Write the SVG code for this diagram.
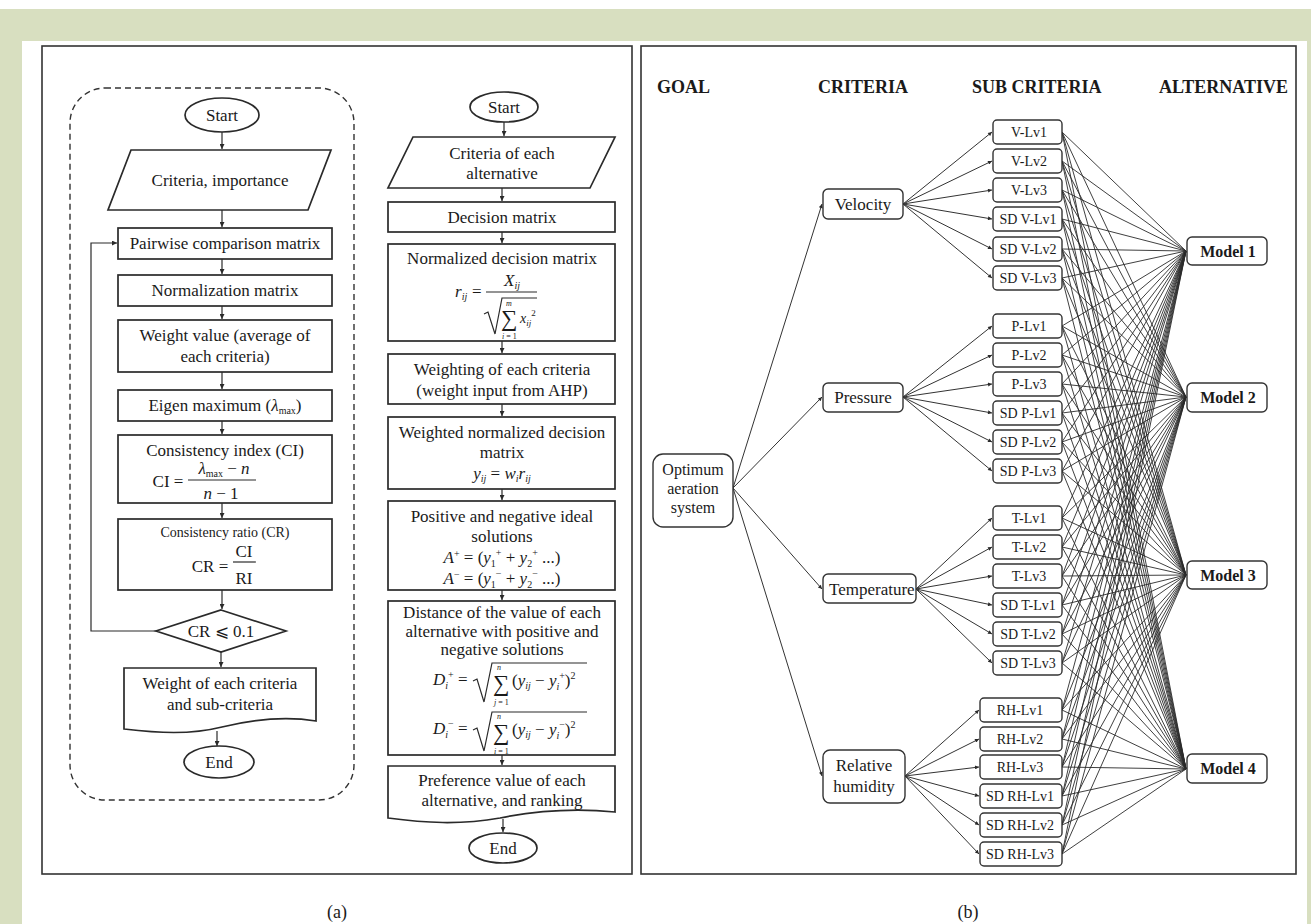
<svg xmlns="http://www.w3.org/2000/svg" width="1311" height="924" viewBox="0 0 1311 924">
<defs>
<style>
text{font-family:"Liberation Serif","Times New Roman","DejaVu Serif",serif;fill:#1a1a1a}
.f17{font-size:17px}
.f14{font-size:14px}
.c{text-anchor:middle}
.it{font-style:italic}
.box{fill:#fff;stroke:#2a2a2a;stroke-width:1.7}
.nb{fill:#fff;stroke:#333;stroke-width:1.4}
.ln{stroke:#2a2a2a;stroke-width:1.2;fill:none}
.al{stroke:#2a2a2a;stroke-width:1.2;fill:none;marker-end:url(#ah)}
.ar{stroke:#333;stroke-width:1;fill:none;marker-end:url(#ah2)}
.wl{stroke:#2a2a2a;stroke-width:0.9;fill:none}
.hd{font-size:18px;font-weight:bold}
.md{font-size:16px;font-weight:bold}
.panel{fill:#fff;stroke:#333;stroke-width:1.6}
.sig{font-size:23px}
.idx{font-size:8px}
.sm{font-size:10px}
.xs{font-size:9px}
</style>
<marker id="ah" viewBox="0 0 6 6" refX="6" refY="3" markerWidth="6" markerHeight="5" markerUnits="userSpaceOnUse" orient="auto"><path d="M0,0L6,3L0,6z" fill="#2a2a2a"/></marker>
<marker id="ah2" viewBox="0 0 6 6" refX="6" refY="3" markerWidth="5" markerHeight="4" markerUnits="userSpaceOnUse" orient="auto"><path d="M0,0L6,3L0,6z" fill="#2a2a2a"/></marker>
</defs>

<rect x="0" y="0" width="1311" height="924" fill="#fff"/>
<rect x="0" y="9" width="1311" height="915" fill="#d8dfc0"/>
<rect x="22" y="41" width="1285" height="883" fill="#fff"/>

<rect class="panel" x="42" y="46" width="590" height="828"/>
<rect class="panel" x="641" y="46" width="655" height="828"/>
<text class="c" font-size="18" x="337" y="918">(a)</text>
<text class="c" font-size="18" x="968" y="918">(b)</text>

<rect x="70" y="88" width="284" height="712" rx="35" fill="none" stroke="#333" stroke-width="1.4" stroke-dasharray="6 4"/>

<g id="connectors">
<path class="al" d="M222 132V149"/>
<path class="al" d="M222 210V227"/>
<path class="al" d="M222 259V274"/>
<path class="al" d="M222 306V319"/>
<path class="al" d="M222 372V389"/>
<path class="al" d="M222 421V434"/>
<path class="al" d="M222 503V518"/>
<path class="al" d="M222 590V609"/>
<path class="al" d="M221 652V667"/>
<path class="al" d="M217 731V746"/>
<path class="al" d="M156 631H91V243H117"/>

<path class="al" d="M504 122V136"/>
<path class="al" d="M502 188V201"/>
<path class="al" d="M502 232V243"/>
<path class="al" d="M502 341V353"/>
<path class="al" d="M502 404V416"/>
<path class="al" d="M502 489V500"/>
<path class="al" d="M502 590V600"/>
<path class="al" d="M502 755V765"/>
<path class="al" d="M503 819V832"/>

<path class="ar" d="M733 488L822 204"/>
<path class="ar" d="M733 488L822 397"/>
<path class="ar" d="M733 488L822 589"/>
<path class="ar" d="M733 488L822 776"/>

<path class="ar" d="M903 204L992 132"/>
<path class="ar" d="M903 204L992 161"/>
<path class="ar" d="M903 204L992 190"/>
<path class="ar" d="M903 204L992 219"/>
<path class="ar" d="M903 204L992 249"/>
<path class="ar" d="M903 204L992 278"/>
<path class="ar" d="M903 397L992 326"/>
<path class="ar" d="M903 397L992 355"/>
<path class="ar" d="M903 397L992 384"/>
<path class="ar" d="M903 397L992 413"/>
<path class="ar" d="M903 397L992 442"/>
<path class="ar" d="M903 397L992 471"/>
<path class="ar" d="M916 589L992 518"/>
<path class="ar" d="M916 589L992 547"/>
<path class="ar" d="M916 589L992 576"/>
<path class="ar" d="M916 589L992 605"/>
<path class="ar" d="M916 589L992 634"/>
<path class="ar" d="M916 589L992 663"/>
<path class="ar" d="M905 776L979 710"/>
<path class="ar" d="M905 776L979 739"/>
<path class="ar" d="M905 776L979 767"/>
<path class="ar" d="M905 776L979 796"/>
<path class="ar" d="M905 776L979 825"/>
<path class="ar" d="M905 776L979 854"/>

<path class="wl" d="M1062 132L1186 251"/><path class="wl" d="M1062 132L1186 397"/><path class="wl" d="M1062 132L1186 575"/><path class="wl" d="M1062 132L1186 769"/>
<path class="wl" d="M1062 161L1186 251"/><path class="wl" d="M1062 161L1186 397"/><path class="wl" d="M1062 161L1186 575"/><path class="wl" d="M1062 161L1186 769"/>
<path class="wl" d="M1062 190L1186 251"/><path class="wl" d="M1062 190L1186 397"/><path class="wl" d="M1062 190L1186 575"/><path class="wl" d="M1062 190L1186 769"/>
<path class="wl" d="M1062 219L1186 251"/><path class="wl" d="M1062 219L1186 397"/><path class="wl" d="M1062 219L1186 575"/><path class="wl" d="M1062 219L1186 769"/>
<path class="wl" d="M1062 249L1186 251"/><path class="wl" d="M1062 249L1186 397"/><path class="wl" d="M1062 249L1186 575"/><path class="wl" d="M1062 249L1186 769"/>
<path class="wl" d="M1062 278L1186 251"/><path class="wl" d="M1062 278L1186 397"/><path class="wl" d="M1062 278L1186 575"/><path class="wl" d="M1062 278L1186 769"/>
<path class="wl" d="M1062 326L1186 251"/><path class="wl" d="M1062 326L1186 397"/><path class="wl" d="M1062 326L1186 575"/><path class="wl" d="M1062 326L1186 769"/>
<path class="wl" d="M1062 355L1186 251"/><path class="wl" d="M1062 355L1186 397"/><path class="wl" d="M1062 355L1186 575"/><path class="wl" d="M1062 355L1186 769"/>
<path class="wl" d="M1062 384L1186 251"/><path class="wl" d="M1062 384L1186 397"/><path class="wl" d="M1062 384L1186 575"/><path class="wl" d="M1062 384L1186 769"/>
<path class="wl" d="M1062 413L1186 251"/><path class="wl" d="M1062 413L1186 397"/><path class="wl" d="M1062 413L1186 575"/><path class="wl" d="M1062 413L1186 769"/>
<path class="wl" d="M1062 442L1186 251"/><path class="wl" d="M1062 442L1186 397"/><path class="wl" d="M1062 442L1186 575"/><path class="wl" d="M1062 442L1186 769"/>
<path class="wl" d="M1062 471L1186 251"/><path class="wl" d="M1062 471L1186 397"/><path class="wl" d="M1062 471L1186 575"/><path class="wl" d="M1062 471L1186 769"/>
<path class="wl" d="M1062 518L1186 251"/><path class="wl" d="M1062 518L1186 397"/><path class="wl" d="M1062 518L1186 575"/><path class="wl" d="M1062 518L1186 769"/>
<path class="wl" d="M1062 547L1186 251"/><path class="wl" d="M1062 547L1186 397"/><path class="wl" d="M1062 547L1186 575"/><path class="wl" d="M1062 547L1186 769"/>
<path class="wl" d="M1062 576L1186 251"/><path class="wl" d="M1062 576L1186 397"/><path class="wl" d="M1062 576L1186 575"/><path class="wl" d="M1062 576L1186 769"/>
<path class="wl" d="M1062 605L1186 251"/><path class="wl" d="M1062 605L1186 397"/><path class="wl" d="M1062 605L1186 575"/><path class="wl" d="M1062 605L1186 769"/>
<path class="wl" d="M1062 634L1186 251"/><path class="wl" d="M1062 634L1186 397"/><path class="wl" d="M1062 634L1186 575"/><path class="wl" d="M1062 634L1186 769"/>
<path class="wl" d="M1062 663L1186 251"/><path class="wl" d="M1062 663L1186 397"/><path class="wl" d="M1062 663L1186 575"/><path class="wl" d="M1062 663L1186 769"/>
<path class="wl" d="M1062 710L1186 251"/><path class="wl" d="M1062 710L1186 397"/><path class="wl" d="M1062 710L1186 575"/><path class="wl" d="M1062 710L1186 769"/>
<path class="wl" d="M1062 739L1186 251"/><path class="wl" d="M1062 739L1186 397"/><path class="wl" d="M1062 739L1186 575"/><path class="wl" d="M1062 739L1186 769"/>
<path class="wl" d="M1062 767L1186 251"/><path class="wl" d="M1062 767L1186 397"/><path class="wl" d="M1062 767L1186 575"/><path class="wl" d="M1062 767L1186 769"/>
<path class="wl" d="M1062 796L1186 251"/><path class="wl" d="M1062 796L1186 397"/><path class="wl" d="M1062 796L1186 575"/><path class="wl" d="M1062 796L1186 769"/>
<path class="wl" d="M1062 825L1186 251"/><path class="wl" d="M1062 825L1186 397"/><path class="wl" d="M1062 825L1186 575"/><path class="wl" d="M1062 825L1186 769"/>
<path class="wl" d="M1062 854L1186 251"/><path class="wl" d="M1062 854L1186 397"/><path class="wl" d="M1062 854L1186 575"/><path class="wl" d="M1062 854L1186 769"/>
</g>

<!-- Left flowchart (AHP) -->
<g id="a-start"><ellipse class="box" cx="222" cy="115" rx="37" ry="17"/><text class="f17 c" x="222" y="121">Start</text></g>
<g id="a-input"><path class="box" d="M131 150H331L308 210H108Z"/><text class="f17 c" x="220" y="186">Criteria, importance</text></g>
<g id="a-pairwise"><rect class="box" x="118" y="228" width="214" height="31"/><text class="f17 c" x="225" y="249">Pairwise comparison matrix</text></g>
<g id="a-normal"><rect class="box" x="118" y="275" width="214" height="31"/><text class="f17 c" x="225" y="296">Normalization matrix</text></g>
<g id="a-weight"><rect class="box" x="118" y="320" width="214" height="52"/><text class="f17 c" x="225" y="341">Weight value (average of</text><text class="f17 c" x="225" y="362">each criteria)</text></g>
<g id="a-eigen"><rect class="box" x="118" y="390" width="214" height="31"/><text class="f17 c" x="225" y="411">Eigen maximum (<tspan class="it">λ</tspan><tspan class="sm" dy="3">max</tspan><tspan dy="-3">)</tspan></text></g>
<g id="a-ci"><rect class="box" x="118" y="435" width="214" height="68"/><text class="f17 c" x="225" y="456">Consistency index (CI)</text>
<text class="f17 c" x="168" y="487">CI =</text>
<text class="f17 c" x="224" y="474"><tspan class="it">λ</tspan><tspan class="sm" dy="3">max</tspan><tspan dy="-3"> − </tspan><tspan class="it">n</tspan></text>
<line class="ln" x1="188" y1="480" x2="256" y2="480"/>
<text class="f17 c" x="221" y="499"><tspan class="it">n</tspan> − 1</text></g>
<g id="a-cr"><rect class="box" x="118" y="519" width="214" height="71"/><text class="f14 c" x="225" y="537">Consistency ratio (CR)</text>
<text class="f17 c" x="210" y="572">CR =</text>
<text class="f17 c" x="244" y="557">CI</text>
<line class="ln" x1="233" y1="562" x2="256" y2="562"/>
<text class="f17 c" x="244" y="584">RI</text></g>
<g id="a-check"><path class="box" d="M221 610L286 631L221 652L156 631Z"/><text class="f17 c" x="221" y="637">CR ⩽ 0.1</text></g>
<g id="a-output"><path class="box" d="M124 668H316V721C285 716 255 719 222 727C190 735 158 733 124 729Z"/><text class="f17 c" x="220" y="689">Weight of each criteria</text><text class="f17 c" x="220" y="710">and sub-criteria</text></g>
<g id="a-end"><ellipse class="box" cx="219" cy="762" rx="35" ry="16"/><text class="f17 c" x="219" y="768">End</text></g>

<!-- Middle flowchart (TOPSIS) -->
<g id="b-start"><ellipse class="box" cx="504" cy="107" rx="34" ry="15"/><text class="f17 c" x="504" y="113">Start</text></g>
<g id="b-input"><path class="box" d="M413 137H615L590 188H388Z"/><text class="f17 c" x="502" y="159">Criteria of each</text><text class="f17 c" x="502" y="179">alternative</text></g>
<g id="b-decision"><rect class="box" x="388" y="202" width="227" height="30"/><text class="f17 c" x="502" y="223">Decision matrix</text></g>
<g id="b-normalized"><rect class="box" x="388" y="244" width="227" height="97"/><text class="f17 c" x="502" y="264">Normalized decision matrix</text>
<line class="ln" x1="486" y1="292" x2="537" y2="292"/>
<path class="ln" d="M484 314L488 312L495 334L502 298H537"/>
<text class="f17"><tspan class="it" x="455" y="297">r</tspan><tspan class="sm it" dy="3">ij</tspan><tspan x="472" y="297">=</tspan><tspan class="it" x="504" y="286">X</tspan><tspan class="sm it" dy="3">ij</tspan><tspan class="idx it" x="506" y="306">m</tspan><tspan class="sig" x="501" y="326">∑</tspan><tspan class="f14 it" x="520" y="323">x</tspan><tspan class="xs it" dy="3">ij</tspan><tspan class="xs" dy="-10">2</tspan><tspan class="idx it" x="502" y="339">i</tspan><tspan class="idx"> = 1</tspan></text></g>
<g id="b-weighting"><rect class="box" x="388" y="354" width="227" height="50"/><text class="f17 c" x="502" y="375">Weighting of each criteria</text><text class="f17 c" x="502" y="396">(weight input from AHP)</text></g>
<g id="b-weighted"><rect class="box" x="388" y="417" width="227" height="72"/><text class="f17 c" x="502" y="438">Weighted normalized decision</text><text class="f17 c" x="502" y="458">matrix</text>
<text class="f17 c" x="502" y="479"><tspan class="it">y</tspan><tspan class="sm it" dy="3">ij</tspan><tspan dy="-3"> = </tspan><tspan class="it">w</tspan><tspan class="sm it" dy="3">i</tspan><tspan class="it" dy="-3">r</tspan><tspan class="sm it" dy="3">ij</tspan></text></g>
<g id="b-ideal"><rect class="box" x="388" y="501" width="227" height="89"/><text class="f17 c" x="502" y="522">Positive and negative ideal</text><text class="f17 c" x="502" y="542">solutions</text>
<text class="f17 c" x="502" y="563"><tspan class="it">A</tspan><tspan class="sm" dy="-6">+</tspan><tspan dy="6"> = (</tspan><tspan class="it">y</tspan><tspan class="sm" dy="4">1</tspan><tspan class="sm" dy="-11">+</tspan><tspan dy="7"> + </tspan><tspan class="it">y</tspan><tspan class="sm" dy="4">2</tspan><tspan class="sm" dy="-11">+</tspan><tspan dy="7"> ...)</tspan></text>
<text class="f17 c" x="502" y="584"><tspan class="it">A</tspan><tspan class="sm" dy="-6">−</tspan><tspan dy="6"> = (</tspan><tspan class="it">y</tspan><tspan class="sm" dy="4">1</tspan><tspan class="sm" dy="-11">−</tspan><tspan dy="7"> + </tspan><tspan class="it">y</tspan><tspan class="sm" dy="4">2</tspan><tspan class="sm" dy="-11">−</tspan><tspan dy="7"> ...)</tspan></text></g>
<g id="b-distance"><rect class="box" x="388" y="601" width="227" height="154"/><text class="f17 c" x="502" y="618">Distance of the value of each</text><text class="f17 c" x="502" y="637">alternative with positive and</text><text class="f17 c" x="502" y="655">negative solutions</text>
<path class="ln" d="M473 681L477 679L484 702L492 663H587"/>
<text class="f17"><tspan class="it" x="433" y="685">D</tspan><tspan class="sm it" dy="4">i</tspan><tspan class="sm" dy="-11">+</tspan><tspan dy="7"> =</tspan><tspan class="idx it" x="497" y="670">n</tspan><tspan class="sig" x="493" y="691">∑</tspan><tspan class="idx it" x="494" y="705">j</tspan><tspan class="idx"> = 1</tspan><tspan x="512" y="686">(</tspan><tspan class="it">y</tspan><tspan class="sm it" dy="3">ij</tspan><tspan dy="-3"> − </tspan><tspan class="it">y</tspan><tspan class="sm it" dy="4">i</tspan><tspan class="sm" dy="-11">+</tspan><tspan dy="7">)</tspan><tspan class="sm" dy="-7">2</tspan></text>
<path class="ln" d="M473 730L477 728L484 751L492 712H587"/>
<text class="f17"><tspan class="it" x="433" y="734">D</tspan><tspan class="sm it" dy="4">i</tspan><tspan class="sm" dy="-11">−</tspan><tspan dy="7"> =</tspan><tspan class="idx it" x="497" y="719">n</tspan><tspan class="sig" x="493" y="740">∑</tspan><tspan class="idx it" x="494" y="754">i</tspan><tspan class="idx"> = 1</tspan><tspan x="512" y="735">(</tspan><tspan class="it">y</tspan><tspan class="sm it" dy="3">ij</tspan><tspan dy="-3"> − </tspan><tspan class="it">y</tspan><tspan class="sm it" dy="4">i</tspan><tspan class="sm" dy="-11">−</tspan><tspan dy="7">)</tspan><tspan class="sm" dy="-7">2</tspan></text></g>
<g id="b-preference"><path class="box" d="M388 766H615V812C575 808 540 810 500 818C460 825 425 823 388 818Z"/><text class="f17 c" x="502" y="786">Preference value of each</text><text class="f17 c" x="502" y="806">alternative, and ranking</text></g>
<g id="b-end"><ellipse class="box" cx="503" cy="848" rx="34" ry="15"/><text class="f17 c" x="503" y="854">End</text></g>

<!-- Right panel (hierarchy) -->
<g id="headers">
<text class="hd" x="657" y="93">GOAL</text>
<text class="hd" x="818" y="93">CRITERIA</text>
<text class="hd" x="972" y="93">SUB CRITERIA</text>
<text class="hd" x="1159" y="93">ALTERNATIVE</text>
</g>
<g id="goal"><rect class="nb" x="653" y="454" width="80" height="73" rx="10"/><text class="c" font-size="16" x="693" y="475">Optimum</text><text class="c" font-size="16" x="693" y="494">aeration</text><text class="c" font-size="16" x="693" y="513">system</text></g>
<g id="velocity"><rect class="nb" x="823" y="189" width="80" height="30" rx="5"/><text class="f17 c" x="863" y="210">Velocity</text></g>
<g id="pressure"><rect class="nb" x="823" y="383" width="80" height="29" rx="5"/><text class="f17 c" x="863" y="403">Pressure</text></g>
<g id="temperature"><rect class="nb" x="823" y="574" width="93" height="29" rx="5"/><text class="f17" x="829" y="595">Temperature</text></g>
<g id="humidity"><rect class="nb" x="823" y="750" width="82" height="53" rx="7"/><text class="f17 c" x="864" y="771">Relative</text><text class="f17 c" x="864" y="792">humidity</text></g>

<g id="v1"><rect class="nb" x="993" y="120" width="69" height="24" rx="4"/><text class="f14 c" x="1029" y="137">V-Lv1</text></g>
<g id="v2"><rect class="nb" x="993" y="149" width="69" height="24" rx="4"/><text class="f14 c" x="1029" y="166">V-Lv2</text></g>
<g id="v3"><rect class="nb" x="993" y="178" width="69" height="24" rx="4"/><text class="f14 c" x="1029" y="195">V-Lv3</text></g>
<g id="sdv1"><rect class="nb" x="993" y="207" width="69" height="24" rx="4"/><text class="f14 c" x="1028" y="224">SD V-Lv1</text></g>
<g id="sdv2"><rect class="nb" x="993" y="237" width="69" height="24" rx="4"/><text class="f14 c" x="1028" y="254">SD V-Lv2</text></g>
<g id="sdv3"><rect class="nb" x="993" y="266" width="69" height="24" rx="4"/><text class="f14 c" x="1028" y="283">SD V-Lv3</text></g>

<g id="p1"><rect class="nb" x="993" y="314" width="69" height="24" rx="4"/><text class="f14 c" x="1029" y="331">P-Lv1</text></g>
<g id="p2"><rect class="nb" x="993" y="343" width="69" height="24" rx="4"/><text class="f14 c" x="1029" y="360">P-Lv2</text></g>
<g id="p3"><rect class="nb" x="993" y="372" width="69" height="24" rx="4"/><text class="f14 c" x="1029" y="389">P-Lv3</text></g>
<g id="sdp1"><rect class="nb" x="993" y="401" width="69" height="24" rx="4"/><text class="f14 c" x="1028" y="418">SD P-Lv1</text></g>
<g id="sdp2"><rect class="nb" x="993" y="430" width="69" height="24" rx="4"/><text class="f14 c" x="1028" y="447">SD P-Lv2</text></g>
<g id="sdp3"><rect class="nb" x="993" y="459" width="69" height="24" rx="4"/><text class="f14 c" x="1028" y="476">SD P-Lv3</text></g>

<g id="t1"><rect class="nb" x="993" y="506" width="69" height="24" rx="4"/><text class="f14 c" x="1029" y="523">T-Lv1</text></g>
<g id="t2"><rect class="nb" x="993" y="535" width="69" height="24" rx="4"/><text class="f14 c" x="1029" y="552">T-Lv2</text></g>
<g id="t3"><rect class="nb" x="993" y="564" width="69" height="24" rx="4"/><text class="f14 c" x="1029" y="581">T-Lv3</text></g>
<g id="sdt1"><rect class="nb" x="993" y="593" width="69" height="24" rx="4"/><text class="f14 c" x="1028" y="610">SD T-Lv1</text></g>
<g id="sdt2"><rect class="nb" x="993" y="622" width="69" height="24" rx="4"/><text class="f14 c" x="1028" y="639">SD T-Lv2</text></g>
<g id="sdt3"><rect class="nb" x="993" y="651" width="69" height="24" rx="4"/><text class="f14 c" x="1028" y="668">SD T-Lv3</text></g>

<g id="rh1"><rect class="nb" x="980" y="698" width="82" height="24" rx="4"/><text class="f14 c" x="1020" y="715">RH-Lv1</text></g>
<g id="rh2"><rect class="nb" x="980" y="727" width="82" height="24" rx="4"/><text class="f14 c" x="1020" y="744">RH-Lv2</text></g>
<g id="rh3"><rect class="nb" x="980" y="755" width="82" height="24" rx="4"/><text class="f14 c" x="1020" y="772">RH-Lv3</text></g>
<g id="sdrh1"><rect class="nb" x="980" y="784" width="82" height="24" rx="4"/><text class="f14 c" x="1020" y="801">SD RH-Lv1</text></g>
<g id="sdrh2"><rect class="nb" x="980" y="813" width="82" height="24" rx="4"/><text class="f14 c" x="1020" y="830">SD RH-Lv2</text></g>
<g id="sdrh3"><rect class="nb" x="980" y="842" width="82" height="24" rx="4"/><text class="f14 c" x="1020" y="859">SD RH-Lv3</text></g>

<g id="model1"><rect class="nb" x="1187" y="237" width="80" height="28" rx="5"/><text class="md c" x="1228" y="257">Model 1</text></g>
<g id="model2"><rect class="nb" x="1187" y="383" width="80" height="29" rx="5"/><text class="md c" x="1228" y="403">Model 2</text></g>
<g id="model3"><rect class="nb" x="1187" y="561" width="80" height="28" rx="5"/><text class="md c" x="1228" y="581">Model 3</text></g>
<g id="model4"><rect class="nb" x="1187" y="754" width="80" height="29" rx="5"/><text class="md c" x="1228" y="774">Model 4</text></g>
</svg>
